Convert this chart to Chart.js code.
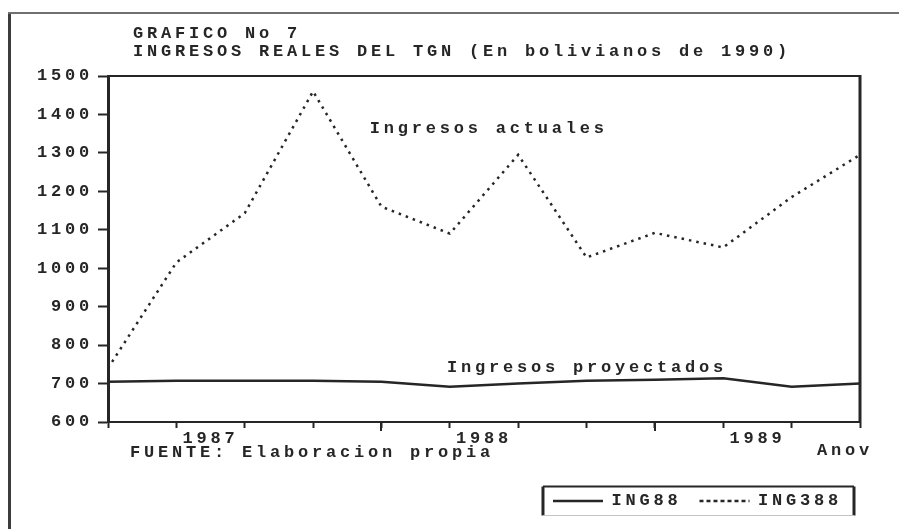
<!DOCTYPE html>
<html>
<head>
<meta charset="utf-8">
<script src="https://cdn.jsdelivr.net/npm/chart.js@4/dist/chart.umd.min.js"></script>
<style>
html,body{margin:0;padding:0;background:#fff;}
#wrap{position:relative;width:899px;height:529px;}
</style>
</head>
<body>
<div id="wrap"><canvas id="c" width="899" height="529"></canvas></div>
<script>
// ---- data ----
const quarters = ['1987-I','1987-II','1987-III','1987-IV','1988-I','1988-II','1988-III','1988-IV','1989-I','1989-II','1989-III','1989-IV'];
const years = ['1987','1988','1989'];
const ingresosActuales   = [740, 1015, 1143, 1460, 1160, 1090, 1295, 1028, 1092, 1054, 1185, 1295]; // ING388
const ingresosProyectados = [705, 707, 707, 707, 705, 692, 700, 707, 710, 714, 692, 700];          // ING88
const yMin = 600, yMax = 1500, yStep = 100;
const titleLines = ['GRAFICO No 7', 'INGRESOS REALES DEL TGN (En bolivianos de 1990)'];
const sourceNote = 'FUENTE: Elaboracion propia';
const xAxisTitle = 'Anov';
const seriesNames = ['ING88', 'ING388'];
const seriesNotes = ['Ingresos proyectados', 'Ingresos actuales'];

// year label positions = centre of each year's quarters
const yearCenters = years.map(y => {
  const idx = quarters.map((q, i) => q.startsWith(y) ? i : -1).filter(i => i >= 0);
  return idx.reduce((a, b) => a + b, 0) / idx.length;
});

// ---- style ----
const INK = '#262626';
const FAMILY = '"Liberation Mono","Courier New",monospace';
const FONT = {family: FAMILY, size: 17, weight: 'bold'};
const FONTSTR = 'bold 17px ' + FAMILY;
const LS = '3.8px';
const DOTS = [2.5, 5];

const decor = {
  id: 'decor',
  beforeLayout(c) { c.ctx.letterSpacing = LS; },
  beforeDraw(c) {
    const ctx = c.ctx;
    ctx.save();
    ctx.fillStyle = '#fff';
    ctx.fillRect(0, 0, c.width, c.height);
    ctx.strokeStyle = '#3c3c3c'; ctx.lineWidth = 3;
    ctx.beginPath(); ctx.moveTo(9.5, 12); ctx.lineTo(9.5, c.height); ctx.stroke();
    ctx.strokeStyle = '#707070'; ctx.lineWidth = 2;
    ctx.beginPath(); ctx.moveTo(8, 13); ctx.lineTo(c.width, 13); ctx.stroke();
    ctx.restore();
    ctx.letterSpacing = LS;
  },
  afterDraw(c) {
    const ctx = c.ctx, a = c.chartArea, sx = c.scales.x, sy = c.scales.y;
    ctx.save();
    ctx.letterSpacing = LS;
    // top & right frame of the plot
    ctx.strokeStyle = INK;
    ctx.lineWidth = 2;
    ctx.beginPath(); ctx.moveTo(a.left, a.top); ctx.lineTo(a.right, a.top); ctx.stroke();
    ctx.lineWidth = 3;
    ctx.beginPath(); ctx.moveTo(a.right, a.top - 1); ctx.lineTo(a.right, a.bottom + 1); ctx.stroke();
    // longer year-boundary ticks
    ctx.lineWidth = 2;
    ctx.beginPath();
    yearCenters.slice(1).forEach(v => {
      const px = Math.round(sx.getPixelForValue(v - 1.5));
      ctx.moveTo(px, a.bottom); ctx.lineTo(px, a.bottom + 9);
    });
    ctx.stroke();
    // texts
    ctx.fillStyle = INK; ctx.font = FONTSTR; ctx.textBaseline = 'middle'; ctx.textAlign = 'left';
    ctx.fillText(titleLines[0], 133, 34);
    ctx.fillText(titleLines[1], 133, 52);
    ctx.fillText(seriesNotes[1], sx.getPixelForValue(3.83), sy.getPixelForValue(1364));
    ctx.fillText(seriesNotes[0], sx.getPixelForValue(4.96), sy.getPixelForValue(741));
    ctx.fillText(sourceNote, 130, 453);
    ctx.fillText(xAxisTitle, 817, 451);
    // legend frame
    const hb = c.legend.legendHitBoxes;
    if (hb && hb.length) {
      const l = Math.min(...hb.map(h => h.left)) - 10;
      const r = Math.max(...hb.map(h => h.left + h.width)) + 12;
      const t = hb[0].top - 6, b = hb[0].top + hb[0].height + 6;
      ctx.strokeStyle = INK; ctx.lineWidth = 2;
      ctx.beginPath(); ctx.moveTo(l, t); ctx.lineTo(r, t); ctx.stroke();
      ctx.lineWidth = 3;
      ctx.beginPath(); ctx.moveTo(l, t); ctx.lineTo(l, b); ctx.moveTo(r, t); ctx.lineTo(r, b); ctx.stroke();
      ctx.strokeStyle = '#c4c4c4'; ctx.lineWidth = 1;
      ctx.beginPath(); ctx.moveTo(l, b); ctx.lineTo(r, b); ctx.stroke();
    }
    ctx.restore();
  }
};

const isYearCenter = v => yearCenters.some(y => Math.abs(y - v) < 1e-6);

new Chart(document.getElementById('c'), {
  type: 'line',
  data: {
    datasets: [
      {
        label: seriesNames[0],
        data: ingresosProyectados.map((v, i) => ({x: i, y: v})),
        borderColor: INK, borderWidth: 2.5, pointRadius: 0, tension: 0, fill: false
      },
      {
        label: seriesNames[1],
        data: ingresosActuales.map((v, i) => ({x: i, y: v})),
        borderColor: INK, borderWidth: 2.5, borderDash: DOTS, pointRadius: 0, tension: 0, fill: false
      }
    ]
  },
  options: {
    responsive: false,
    animation: false,
    layout: {padding: {left: 0, top: 76, right: 39, bottom: 9.5}},
    plugins: {
      title: {display: false},
      tooltip: {enabled: false},
      legend: {
        position: 'bottom', align: 'end',
        labels: {
          usePointStyle: true, pointStyle: 'line', pointStyleWidth: 50,
          color: INK, font: {family: FAMILY, size: 17, weight: 'bold', lineHeight: 1}, padding: 18,
          generateLabels(chart) {
            const items = Chart.defaults.plugins.legend.labels.generateLabels(chart);
            items.forEach(it => {
              const ds = chart.data.datasets[it.datasetIndex];
              it.lineDash = ds.borderDash ? [4, 3] : [];
              it.lineWidth = 2.5;
              it.strokeStyle = INK;
              it.fillStyle = INK;
            });
            return items;
          }
        }
      }
    },
    scales: {
      x: {
        type: 'linear', min: 0, max: quarters.length - 1,
        afterBuildTicks(s) {
          const vals = quarters.map((q, i) => i).concat(yearCenters).sort((a, b) => a - b);
          s.ticks = vals.map(v => ({value: v}));
        },
        afterFit(s) { s.height = 52.5; },
        ticks: {
          autoSkip: false, maxRotation: 0, color: INK, font: FONT, padding: 1,
          callback: v => { const k = yearCenters.findIndex(y => Math.abs(y - v) < 1e-6); return k >= 0 ? years[k] : ''; }
        },
        grid: {
          drawOnChartArea: false, tickLength: 6,
          tickColor: ctx => (ctx.tick && isYearCenter(ctx.tick.value)) ? 'rgba(0,0,0,0)' : INK,
          tickWidth: 2
        },
        border: {color: INK, width: 2}
      },
      y: {
        min: yMin, max: yMax,
        afterFit(s) { s.width = 108; },
        ticks: {stepSize: yStep, color: INK, font: FONT, padding: 5, callback: v => String(v)},
        grid: {drawOnChartArea: false, tickLength: 10, tickColor: INK, tickWidth: 2},
        border: {color: INK, width: 3}
      }
    }
  },
  plugins: [decor]
});
</script>
</body>
</html>
